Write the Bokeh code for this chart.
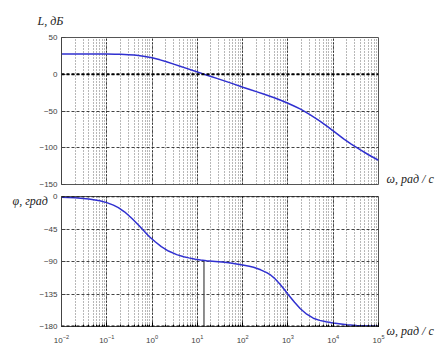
from bokeh.plotting import figure
from bokeh.layouts import column
from bokeh.models import Span, FixedTicker, Range1d, Title
from bokeh.embed import file_html
from bokeh.resources import INLINE

# ---- data ----
w_mag = [0.01, 0.1, 0.15, 0.2, 0.3, 0.4, 0.5, 0.7, 1, 1.5, 2, 3, 4.5, 6, 8, 10.7, 14, 20,
         28, 38, 60, 105, 150, 200, 300, 500, 740, 1000, 1400, 1900, 3000, 5000, 7000,
         10000, 17000, 25000, 40000, 60000, 100000]
L_db = [27.5, 27.4, 27.3, 27.1, 26.6, 26.1, 25.5, 24.3, 22.5, 19.6, 17.3, 13.8, 10.2, 7.7,
        5.1, 2.5, 0, -3, -6, -8.7, -12.8, -18, -21.2, -23.6, -27.3, -32, -36, -39.5, -43.5,
        -47.5, -54.5, -63.5, -70, -77, -88, -95, -103, -109.5, -117]

w_ph = [0.01, 0.02, 0.04, 0.07, 0.1, 0.14, 0.18, 0.25, 0.36, 0.5, 0.65, 0.85, 1.19, 1.6,
        2.3, 3.5, 5, 6.5, 9, 11.8, 16, 25, 35, 50, 63, 100, 140, 174, 250, 340, 420, 500,
        670, 850, 1020, 1400, 1860, 2600, 3630, 5000, 7000, 10000, 20000, 33000, 100000]
phi_deg = [-1, -1.8, -3.5, -6, -8.5, -12, -15.5, -21.5, -30.5, -39.5, -47, -55, -63, -69.5,
           -75.5, -80.5, -83.5, -85, -86.8, -88, -89, -90, -90.8, -91.8, -92.8, -94.8,
           -96.5, -98, -101.5, -105.5, -109, -113, -121.5, -129.5, -136, -146.5, -155,
           -163, -168.5, -171.5, -173.5, -175, -177.5, -178.5, -179.5]

w_cross = [14]
phi_cross_top = [-90]
phi_cross_bottom = [-180]

mag_ticks = [50, 0, -50, -100, -150]
ph_ticks = [0, -45, -90, -135, -180]

CURVE = "#3030d0"
TICK_FONT = "Liberation Sans"
LBL_FONT = "Liberation Serif"


def style(p, yticks):
    p.yaxis.ticker = FixedTicker(ticks=yticks)
    p.yaxis.major_label_text_font = TICK_FONT
    p.yaxis.major_label_text_font_size = "8px"
    p.yaxis.major_label_text_color = "#404040"
    p.yaxis.major_tick_in = 4
    p.yaxis.major_tick_out = 0
    p.yaxis.minor_tick_in = 0
    p.yaxis.minor_tick_out = 0
    p.yaxis.major_label_standoff = 4
    p.yaxis.axis_line_color = "#444444"
    p.yaxis.major_tick_line_color = "#444444"
    p.xgrid.grid_line_color = "#222222"
    p.xgrid.grid_line_dash = "2 2"
    p.xgrid.grid_line_alpha = 0.85
    p.xgrid.minor_grid_line_color = "#333333"
    p.xgrid.minor_grid_line_dash = "1 2"
    p.xgrid.minor_grid_line_alpha = 0.7
    p.ygrid.grid_line_color = "#222222"
    p.ygrid.grid_line_dash = "3 2"
    p.ygrid.grid_line_alpha = 0.85
    p.outline_line_color = "#555555"
    p.outline_line_alpha = 1
    p.outline_line_width = 1
    p.background_fill_color = "white"
    p.border_fill_color = "white"


def ttl(text, offset, standoff, valign):
    return Title(text=text, align="left", offset=offset, standoff=standoff,
                 vertical_align=valign, text_font=LBL_FONT,
                 text_font_style="italic", text_font_size="12px",
                 text_color="#222222")


H1 = 190
p1 = figure(width=444, height=H1, x_axis_type="log",
            x_range=Range1d(0.01, 1e5), y_range=Range1d(-150, 50),
            output_backend="svg", toolbar_location=None,
            min_border_left=61, min_border_right=66, min_border_top=37,
            min_border_bottom=6)
style(p1, mag_ticks)
p1.xaxis.visible = False
p1.add_layout(Span(location=0, dimension="width", line_color="black",
                   line_dash="3 2", line_width=2))
p1.line(w_mag, L_db, line_color=CURVE, line_width=1.5)
p1.add_layout(ttl("L, дБ", -24, 19, "bottom"), "above")
p1.add_layout(ttl("ω, рад / с", 325, -25, "top"), "below")

H2 = 162
p2 = figure(width=444, height=H2, x_axis_type="log",
            x_range=Range1d(0.01, 1e5), y_range=Range1d(-180, 0),
            output_backend="svg", toolbar_location=None,
            min_border_left=61, min_border_right=66, min_border_top=6,
            min_border_bottom=26)
style(p2, ph_ticks)
p2.xaxis.major_label_text_font = TICK_FONT
p2.xaxis.major_label_text_font_size = "8px"
p2.xaxis.major_label_text_color = "#404040"
p2.xaxis.major_tick_in = 4
p2.xaxis.major_tick_out = 0
p2.xaxis.minor_tick_in = 2
p2.xaxis.minor_tick_out = 0
p2.xaxis.major_label_standoff = 8
p2.xaxis.axis_line_color = "#444444"
p2.add_layout(Span(location=-180, dimension="width", line_color="black",
                   line_dash="3 2", line_width=2))
p2.add_layout(Span(location=0, dimension="width", line_color="black",
                   line_dash="3 2", line_width=1.5))
p2.segment(x0=w_cross, y0=phi_cross_top, x1=w_cross, y1=phi_cross_bottom,
           line_color="#444444", line_width=1.2)
p2.line(w_ph, phi_deg, line_color=CURVE, line_width=1.5)
p2.add_layout(ttl("φ, град", -49, -23, "bottom"), "above")
p2.add_layout(ttl("ω, рад / с", 325, -44, "top"), "below")

layout = column(p1, p2)
open("out.html", "w").write(file_html(layout, INLINE))
